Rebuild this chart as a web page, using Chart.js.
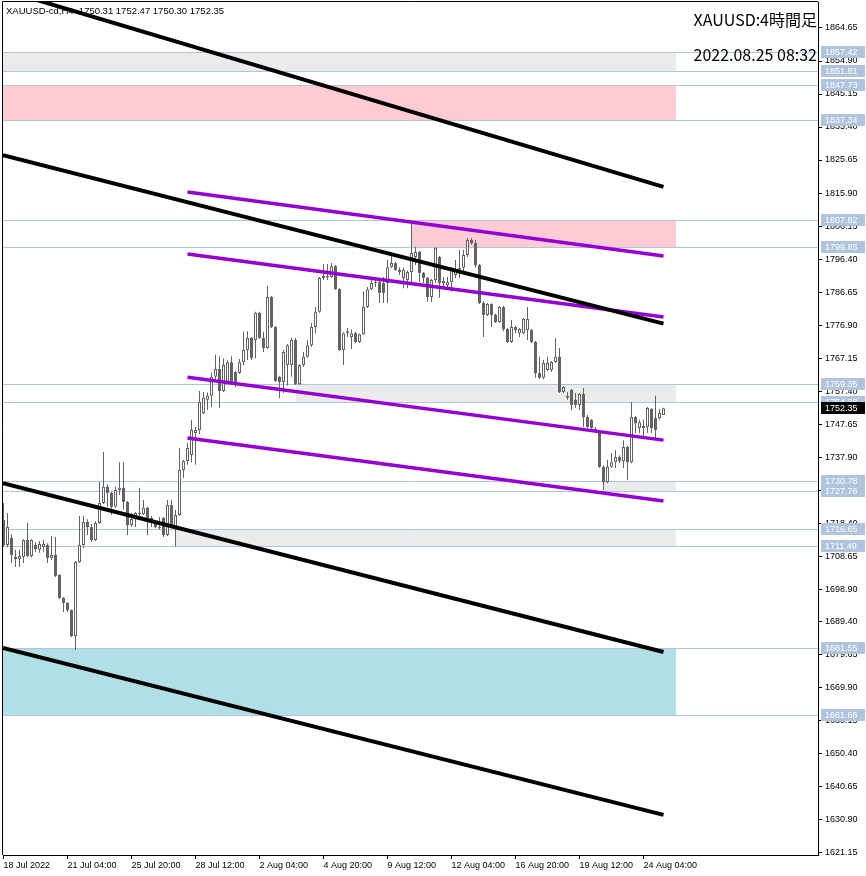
<!DOCTYPE html>
<html>
<head>
<meta charset="utf-8">
<script src="https://cdn.jsdelivr.net/npm/chart.js@4.4.0/dist/chart.umd.min.js"></script>
<style>
  html, body { margin: 0; padding: 0; background: #fff; }
</style>
</head>
<body>
<canvas id="myChart" width="866" height="876"></canvas>
<script>
// XAUUSD 4H bars, 18 Jul 2022 12:00 .. 25 Aug 2022
var openP = [1719.3,1711.9,1714.0,1708.4,1707.8,1708.4,1713.4,1708.7,1711.9,1710.5,1711.3,1711.9,1708.1,1709.0,1703.1,1696.3,1694.8,1692.7,1685.0,1706.9,
  1711.9,1718.7,1717.2,1713.4,1718.4,1724.3,1729.1,1727.3,1723.2,1728.2,1728.8,1724.6,1717.8,1719.6,1721.4,1721.1,1722.9,1719.9,1718.4,1717.2,
  1719.9,1714.9,1723.7,1717.2,1720.8,1734.1,1736.7,1738.5,1745.0,1745.9,1750.9,1754.8,1756.0,1761.6,1763.9,1757.4,1760.1,1765.9,1763.0,1762.7,
  1765.9,1769.5,1773.1,1772.5,1780.5,1773.1,1770.1,1785.2,1776.3,1761.6,1760.1,1765.1,1765.1,1772.5,1759.5,1765.1,1767.5,1770.9,1776.3,1780.8,
  1790.8,1791.4,1791.1,1794.3,1787.5,1769.5,1774.5,1773.4,1774.5,1771.9,1774.2,1782.2,1787.5,1789.3,1789.6,1789.3,1789.3,1794.0,1795.2,1793.2,
  1790.8,1790.2,1792.6,1797.0,1798.5,1792.3,1790.8,1785.2,1790.2,1797.0,1789.3,1788.7,1789.6,1791.7,1793.2,1793.8,1797.6,1802.0,1801.1,1794.6,
  1783.4,1779.9,1783.1,1779.9,1777.8,1782.2,1775.7,1771.9,1776.3,1774.5,1774.5,1775.4,1775.4,1771.9,1762.7,1761.3,1763.6,1763.6,1766.0,1767.5,
  1757.1,1755.4,1757.7,1754.8,1753.3,1756.5,1749.7,1748.9,1746.2,1745.3,1735.0,1730.5,1735.0,1736.4,1737.9,1736.7,1740.9,1736.4,1749.7,1746.5,
  1746.5,1746.8,1752.1,1749.4,1749.4,1750.31];
var highP = [1724.3,1721.4,1715.0,1710.5,1710.5,1713.6,1718.4,1713.6,1712.8,1713.1,1713.4,1712.4,1714.6,1714.3,1703.3,1696.5,1695.0,1692.9,1707.2,1720.5,
  1720.5,1719.5,1718.1,1718.9,1730.5,1739.4,1729.9,1727.6,1729.1,1736.4,1736.4,1724.9,1721.4,1721.7,1728.8,1725.2,1723.2,1720.5,1719.3,1720.2,
  1720.2,1725.2,1725.2,1722.3,1740.6,1737.0,1742.1,1748.9,1746.8,1757.4,1757.1,1757.0,1762.8,1768.2,1767.7,1767.0,1766.4,1767.7,1763.3,1766.9,
  1774.9,1775.1,1773.4,1780.8,1780.8,1774.9,1788.4,1785.5,1776.6,1761.9,1769.5,1771.3,1773.1,1773.1,1765.4,1768.9,1772.5,1777.5,1782.2,1791.1,
  1794.9,1794.9,1795.2,1794.6,1787.8,1774.8,1776.0,1775.6,1774.9,1774.4,1786.9,1788.1,1790.5,1790.8,1790.8,1791.1,1796.1,1797.3,1795.5,1794.0,
  1793.8,1792.9,1807.0,1800.0,1798.8,1792.6,1791.1,1790.5,1799.9,1797.3,1791.1,1791.1,1794.0,1796.1,1799.1,1799.1,1802.6,1802.6,1802.0,1794.9,
  1783.9,1783.4,1783.3,1780.2,1782.5,1782.5,1776.0,1778.4,1776.6,1776.0,1779.0,1782.2,1775.7,1772.2,1767.5,1766.6,1767.5,1766.3,1773.1,1770.1,
  1758.9,1757.1,1758.0,1756.8,1756.8,1758.3,1750.3,1749.1,1746.8,1745.6,1735.3,1737.0,1739.1,1740.0,1738.4,1742.9,1741.2,1754.2,1750.0,1748.9,
  1748.9,1752.7,1752.4,1756.0,1752.1,1752.47];
var lowP = [1711.3,1711.3,1706.6,1705.4,1705.4,1706.6,1708.4,1708.2,1709.9,1709.6,1709.9,1706.6,1707.5,1702.5,1696.0,1692.1,1692.1,1684.7,1680.9,1706.6,
  1711.0,1714.9,1712.8,1713.1,1718.1,1724.0,1723.2,1720.8,1722.9,1726.7,1722.3,1714.9,1717.2,1717.2,1719.3,1720.8,1714.9,1717.2,1716.9,1716.4,
  1714.3,1714.6,1716.9,1711.5,1720.5,1731.7,1735.6,1736.4,1735.6,1744.7,1750.6,1751.8,1752.7,1760.7,1752.4,1757.1,1759.8,1759.8,1758.6,1762.4,
  1765.1,1766.6,1766.6,1767.0,1772.8,1768.9,1769.8,1776.0,1760.1,1755.3,1756.8,1759.0,1761.6,1759.2,1759.2,1764.5,1767.2,1770.4,1774.5,1780.5,
  1790.2,1790.2,1790.9,1787.3,1769.2,1765.1,1773.4,1769.8,1771.6,1771.6,1774.0,1781.9,1787.2,1788.1,1783.4,1783.4,1783.4,1793.7,1792.9,1791.7,
  1787.8,1787.8,1789.6,1794.6,1789.6,1789.3,1783.7,1783.7,1789.3,1784.9,1788.1,1788.1,1786.7,1790.8,1790.8,1792.3,1797.0,1800.6,1794.0,1783.1,
  1773.4,1779.6,1776.3,1777.5,1777.5,1775.1,1771.6,1771.6,1774.5,1773.4,1774.2,1772.5,1771.6,1761.3,1761.0,1760.9,1763.3,1763.0,1765.7,1756.8,
  1756.8,1754.8,1751.8,1752.4,1751.8,1746.8,1746.5,1746.2,1745.0,1734.7,1728.2,1730.2,1734.7,1734.7,1736.1,1734.7,1731.1,1736.1,1745.0,1745.0,
  1743.8,1745.0,1745.0,1742.9,1748.9,1750.30];
var closeP = [1711.9,1717.2,1709.0,1707.8,1708.7,1713.4,1708.7,1713.4,1710.7,1712.2,1712.2,1708.1,1709.0,1702.8,1696.3,1694.8,1692.7,1685.0,1706.9,1711.9,
  1718.7,1717.2,1713.4,1718.4,1724.3,1729.1,1727.3,1723.2,1728.2,1728.8,1724.6,1717.8,1719.6,1721.4,1721.1,1722.9,1719.9,1718.4,1717.2,1716.9,
  1714.9,1723.7,1717.2,1720.8,1734.1,1736.7,1740.6,1745.9,1745.9,1754.2,1755.4,1756.0,1761.6,1763.9,1757.4,1765.1,1765.9,1760.1,1759.8,1765.9,
  1769.5,1773.1,1767.2,1780.5,1773.1,1770.1,1785.2,1776.3,1760.4,1760.1,1768.9,1770.9,1772.5,1759.5,1765.1,1767.5,1770.9,1776.3,1780.8,1790.8,
  1791.4,1791.1,1794.3,1787.5,1769.5,1774.5,1775.1,1774.5,1771.9,1774.2,1782.2,1787.5,1789.3,1789.6,1786.4,1786.4,1794.0,1795.2,1793.2,1792.6,
  1793.2,1792.6,1798.2,1798.5,1792.3,1790.8,1785.2,1790.2,1799.7,1789.3,1789.9,1789.6,1793.8,1793.2,1793.8,1797.6,1802.0,1801.1,1794.6,1783.4,
  1779.9,1783.1,1779.9,1777.8,1782.2,1775.7,1771.9,1776.3,1775.4,1775.7,1778.7,1778.7,1771.9,1762.7,1761.3,1765.7,1765.7,1766.0,1767.5,1757.1,
  1758.6,1756.0,1753.3,1753.3,1756.5,1749.7,1746.8,1746.5,1745.3,1735.0,1730.5,1735.0,1736.4,1737.9,1736.7,1740.9,1736.4,1749.7,1747.9,1748.2,
  1747.1,1752.4,1746.5,1745.9,1750.9,1752.35];

var xTickIndex = [0, 16, 32, 48, 64, 80, 96, 112, 128, 144, 160];
var xTickLabels = ['18 Jul 2022', '21 Jul 04:00', '25 Jul 20:00', '28 Jul 12:00', '2 Aug 04:00', '4 Aug 20:00',
  '9 Aug 12:00', '12 Aug 04:00', '16 Aug 20:00', '19 Aug 12:00', '24 Aug 04:00'];
var yTickValues = [1864.65, 1854.90, 1845.15, 1835.40, 1825.65, 1815.90, 1806.15, 1796.40, 1786.65, 1776.90, 1767.15,
  1757.40, 1747.65, 1737.90, 1728.15, 1718.40, 1708.65, 1698.90, 1689.40, 1679.65, 1669.90, 1660.15, 1650.40, 1640.65,
  1630.90, 1621.15];

// horizontal price levels (tagged on the price axis)
var levelPrices = [1857.42, 1851.81, 1847.73, 1837.34, 1807.82, 1799.85, 1759.35, 1754.28, 1730.78, 1727.76,
  1716.65, 1711.49, 1681.55, 1661.66];
var lastPrice = 1752.35;

// rectangles: price band and bar range
var zoneTop    = [1857.42, 1847.73, 1807.82, 1759.35, 1730.78, 1716.65, 1681.55];
var zoneBottom = [1851.81, 1837.34, 1799.85, 1754.28, 1727.76, 1711.49, 1661.66];
var zoneFrom   = [-1, -1, 102, 73, 150, 43, -1];
var zoneTo     = [168, 168, 168, 168, 168, 168, 168];
var zoneKind   = ['gray', 'pink', 'pink', 'gray', 'gray', 'gray', 'cyan'];

// trend lines: start bar/price -> end bar/price
var trendFromBar   = [-0.125, -0.125, -0.125, -0.125, 46, 46, 46, 46];
var trendFromPrice = [1875.9, 1827.1, 1730.2, 1681.5, 1816.2, 1797.9, 1761.5, 1743.5];
var trendToBar     = [165, 165, 165, 165, 165, 165, 165, 165];
var trendToPrice   = [1817.7, 1777.3, 1680.3, 1632.2, 1797.3, 1779.3, 1742.9, 1724.9];
var trendKind      = ['black', 'black', 'black', 'black', 'purple', 'purple', 'purple', 'purple'];

var zoneColors = { gray: '#ebebeb', pink: '#ffccd5', cyan: '#b0e0e6' };
var trendColors = { black: '#000000', purple: '#9400d3' };
var candleColor = '#636363';
var levelColor = '#b0c4de';
var smallFont = '9px "Liberation Sans", Arial, sans-serif';

var wickData = [], upData = [], downData = [];
openP.forEach(function (o, i) {
  wickData.push({ x: i, y: [lowP[i], highP[i]] });
  if (closeP[i] >= o) upData.push({ x: i, y: [o, closeP[i]] });
  else downData.push({ x: i, y: [closeP[i], o] });
});

var datasets = [];
trendFromBar.forEach(function (f, k) {
  datasets.push({
    type: 'line',
    data: [{ x: f, y: trendFromPrice[k] }, { x: trendToBar[k], y: trendToPrice[k] }],
    borderColor: trendColors[trendKind[k]],
    borderWidth: trendKind[k] === 'black' ? 4 : 3.5,
    pointRadius: 0,
    order: 0,
    clip: 0
  });
});
datasets.push({
  data: upData, backgroundColor: '#ffffff', borderColor: candleColor, borderWidth: 1,
  borderSkipped: false, barThickness: 3, minBarLength: 1, grouped: false, inflateAmount: 0, order: 1
});
datasets.push({
  data: downData, backgroundColor: candleColor, borderWidth: 0,
  barThickness: 3, minBarLength: 1, grouped: false, inflateAmount: 0, order: 1
});
datasets.push({
  data: wickData, backgroundColor: candleColor, borderWidth: 0,
  barThickness: 1, grouped: false, inflateAmount: 0, order: 2
});

var backdrop = {
  id: 'backdrop',
  beforeDatasetsDraw: function (chart) {
    var ctx = chart.ctx, a = chart.chartArea, xs = chart.scales.x, ys = chart.scales.y;
    ctx.save();
    ctx.beginPath();
    ctx.rect(a.left, a.top, a.right - a.left, a.bottom - a.top);
    ctx.clip();
    zoneTop.forEach(function (t, k) {
      var x1 = Math.round(xs.getPixelForValue(zoneFrom[k]));
      var x2 = Math.round(xs.getPixelForValue(zoneTo[k]));
      var y1 = Math.round(ys.getPixelForValue(t));
      var y2 = Math.round(ys.getPixelForValue(zoneBottom[k]));
      ctx.fillStyle = zoneColors[zoneKind[k]];
      ctx.fillRect(x1, y1, x2 - x1, y2 - y1);
    });
    ctx.strokeStyle = levelColor;
    ctx.lineWidth = 1;
    levelPrices.forEach(function (p) {
      var y = Math.round(ys.getPixelForValue(p)) + 0.5;
      ctx.beginPath();
      ctx.moveTo(a.left, y);
      ctx.lineTo(a.right, y);
      ctx.stroke();
    });
    ctx.fillStyle = '#000';
    ctx.font = '9.5px "Liberation Sans", Arial, sans-serif';
    ctx.textBaseline = 'middle';
    ctx.textAlign = 'left';
    ctx.fillText('XAUUSD-cd,H4  ' + openP[openP.length - 1].toFixed(2) + ' ' + highP[highP.length - 1].toFixed(2) + ' ' +
      lowP[lowP.length - 1].toFixed(2) + ' ' + closeP[closeP.length - 1].toFixed(2), 6, 11);
    ctx.restore();
  },
  afterDraw: function (chart) {
    var ctx = chart.ctx, a = chart.chartArea, ys = chart.scales.y;
    ctx.save();
    ctx.strokeStyle = '#000';
    ctx.lineWidth = 1;
    ctx.beginPath();
    ctx.moveTo(a.left - 0.5, a.bottom);
    ctx.lineTo(a.left - 0.5, a.top - 0.5);
    ctx.lineTo(a.right, a.top - 0.5);
    ctx.stroke();
    ctx.font = smallFont;
    ctx.textBaseline = 'middle';
    ctx.textAlign = 'left';
    function tag(p, bg) {
      var y = Math.round(ys.getPixelForValue(p));
      ctx.fillStyle = bg;
      ctx.fillRect(a.right + 3, y - 6, 44, 12);
      ctx.fillStyle = '#fff';
      ctx.fillText(p.toFixed(2), a.right + 7, y + 0.5);
    }
    levelPrices.forEach(function (p) { tag(p, levelColor); });
    tag(lastPrice, '#000');
    ctx.fillStyle = '#000';
    ctx.textAlign = 'right';
    ctx.textBaseline = 'alphabetic';
    ctx.font = '16px "Noto Sans CJK JP", sans-serif';
    ctx.fillText('XAUUSD:4時間足', a.right - 1, 26);
    ctx.fillText('2022.08.25 08:32', a.right - 1, 61);
    ctx.restore();
  }
};

var ctx = document.getElementById('myChart').getContext('2d');
var myChart = new Chart(ctx, {
  type: 'bar',
  data: { datasets: datasets },
  options: {
    responsive: false,
    animation: false,
    devicePixelRatio: 1,
    layout: { padding: { left: 3, top: 2, right: 0, bottom: 0 } },
    plugins: { legend: { display: false }, tooltip: { enabled: false } },
    scales: {
      x: {
        type: 'linear',
        min: -0.125,
        max: 203.625,
        offset: false,
        afterBuildTicks: function (s) { s.ticks = xTickIndex.map(function (v) { return { value: v }; }); },
        afterFit: function (s) { s.height = 21; s.paddingLeft = 0; s.paddingRight = 0; },
        grid: { drawOnChartArea: false, offset: false, tickLength: 4, color: '#000' },
        border: { display: true, color: '#000' },
        ticks: {
          autoSkip: false, maxRotation: 0, minRotation: 0, align: 'start', padding: 1, color: '#000',
          font: { family: '"Liberation Sans", Arial, sans-serif', size: 9 },
          callback: function (v, i) { return xTickLabels[i]; }
        }
      },
      y: {
        position: 'right',
        min: 1620.34,
        max: 1872.33,
        afterBuildTicks: function (s) { s.ticks = yTickValues.map(function (v) { return { value: v }; }); },
        afterFit: function (s) { s.width = 48; s.paddingTop = 0; s.paddingBottom = 0; },
        grid: { drawOnChartArea: false, tickLength: 4, color: '#000' },
        border: { display: true, color: '#000' },
        ticks: {
          autoSkip: false, padding: 3, color: '#000',
          font: { family: '"Liberation Sans", Arial, sans-serif', size: 9 },
          callback: function (v) { return Number(v).toFixed(2); }
        }
      }
    }
  },
  plugins: [backdrop]
});
</script>
</body>
</html>
